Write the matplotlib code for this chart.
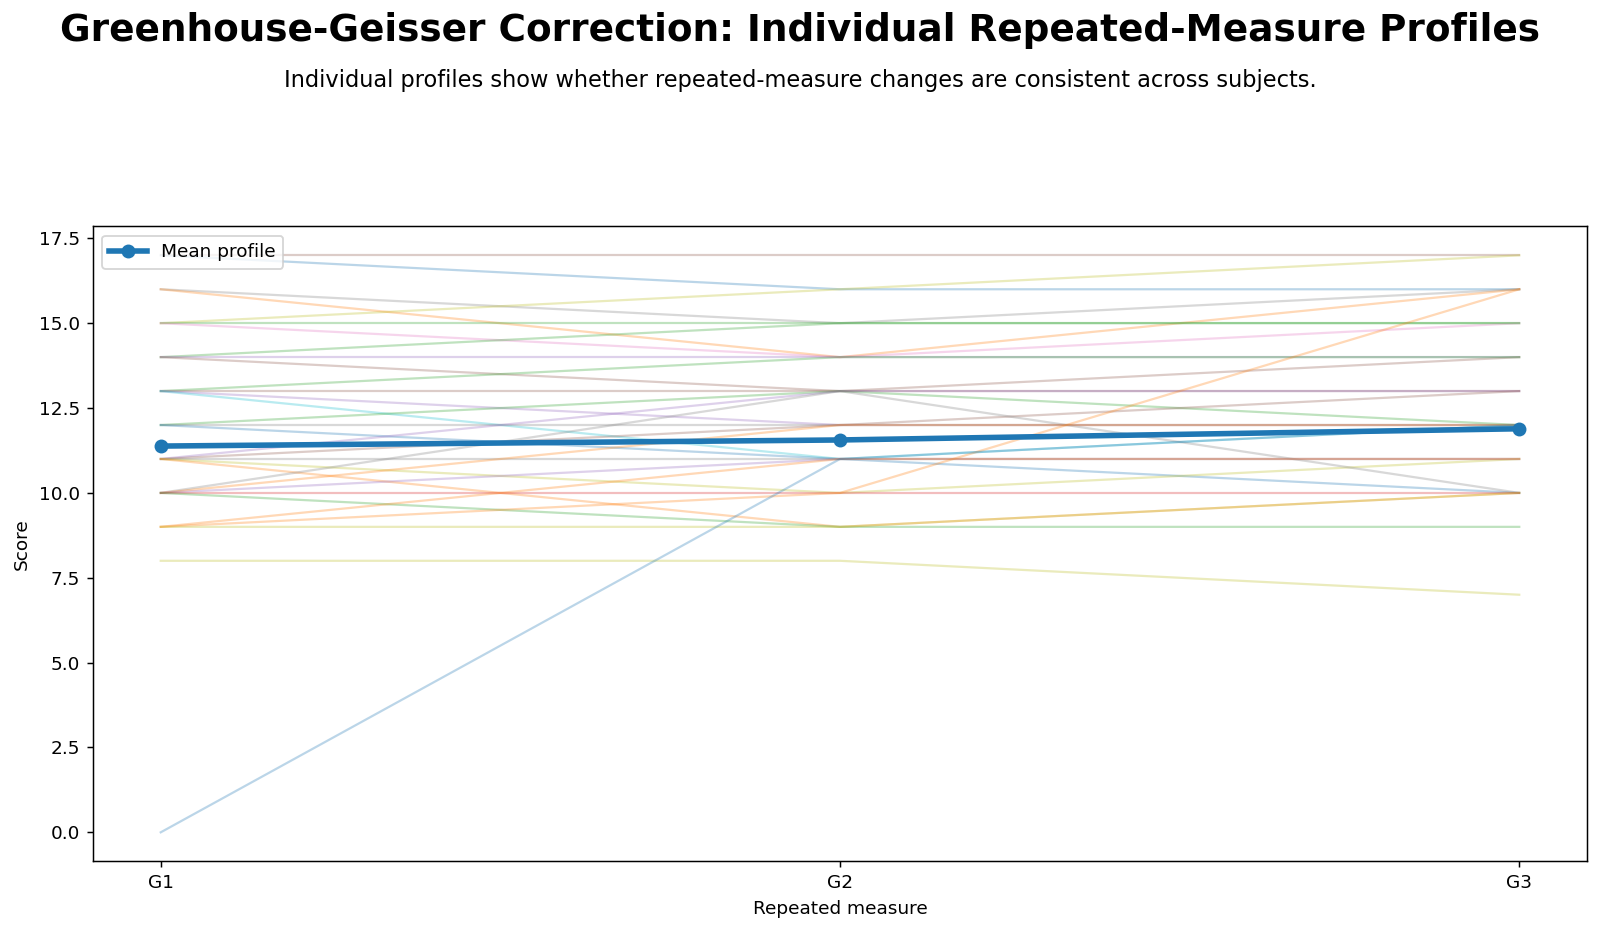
import numpy as np
import matplotlib
matplotlib.use("Agg")
import matplotlib.pyplot as plt

# Measures (x axis)
measures = ["G1", "G2", "G3"]

# Individual subject scores: (G1, G2, G3)
g1 = [17, 17, 16, 16, 15, 15, 15, 14, 14, 14, 13, 13, 13, 13, 12, 12,
      12, 11, 11, 11, 11, 11, 10, 10, 10, 10, 10, 9, 9, 9, 8, 0]
g2 = [17, 16, 15, 14, 16, 15, 14, 15, 14, 13, 14, 13, 12, 11, 13, 12,
      11, 13, 12, 11, 10, 9, 13, 12, 11, 10, 9, 11, 10, 9, 8, 11]
g3 = [17, 16, 16, 16, 17, 15, 15, 15, 14, 14, 14, 13, 12, 12, 12, 12,
      10, 13, 13, 11, 11, 10, 10, 12, 11, 10, 9, 11, 16, 10, 7, 12]

# Mean profile as drawn
mean_profile = [11.38, 11.56, 11.89]

# line colours per subject (tab10)
line_colors = ["tab:brown", "tab:blue", "tab:gray", "tab:orange", "tab:olive",
               "tab:green", "tab:pink", "tab:green", "tab:purple", "tab:brown",
               "tab:green", "tab:brown", "tab:purple", "tab:cyan", "tab:green",
               "tab:gray", "tab:blue", "tab:purple", "tab:brown", "tab:gray",
               "tab:olive", "tab:orange", "tab:gray", "tab:orange", "tab:purple",
               "tab:red", "tab:green", "tab:orange", "tab:orange", "tab:olive",
               "tab:olive", "tab:blue"]

scores = np.array([g1, g2, g3]).T
x = np.arange(len(measures))

fig = plt.figure(figsize=(12, 6.99), dpi=1600 / 12)
ax = fig.add_axes([0.058, 0.076, 0.934, 0.681])

for row, col in zip(scores, line_colors):
    ax.plot(x, row, color=col, alpha=0.3, linewidth=1.2)

ax.plot(x, mean_profile, color="tab:blue", linewidth=3, marker="o",
        markersize=6.5, label="Mean profile")

ax.set_xticks(x)
ax.set_xticklabels(measures)
ax.set_xlabel("Repeated measure")
ax.set_ylabel("Score")
ax.legend(loc="upper left")

fig.text(0.5, 0.967, "Greenhouse-Geisser Correction: Individual Repeated-Measure Profiles",
         ha="center", va="center", fontsize=20.2, fontweight="bold")
fig.text(0.5, 0.914, "Individual profiles show whether repeated-measure changes are consistent across subjects.",
         ha="center", va="center", fontsize=12.2)

fig.savefig("out.png")
